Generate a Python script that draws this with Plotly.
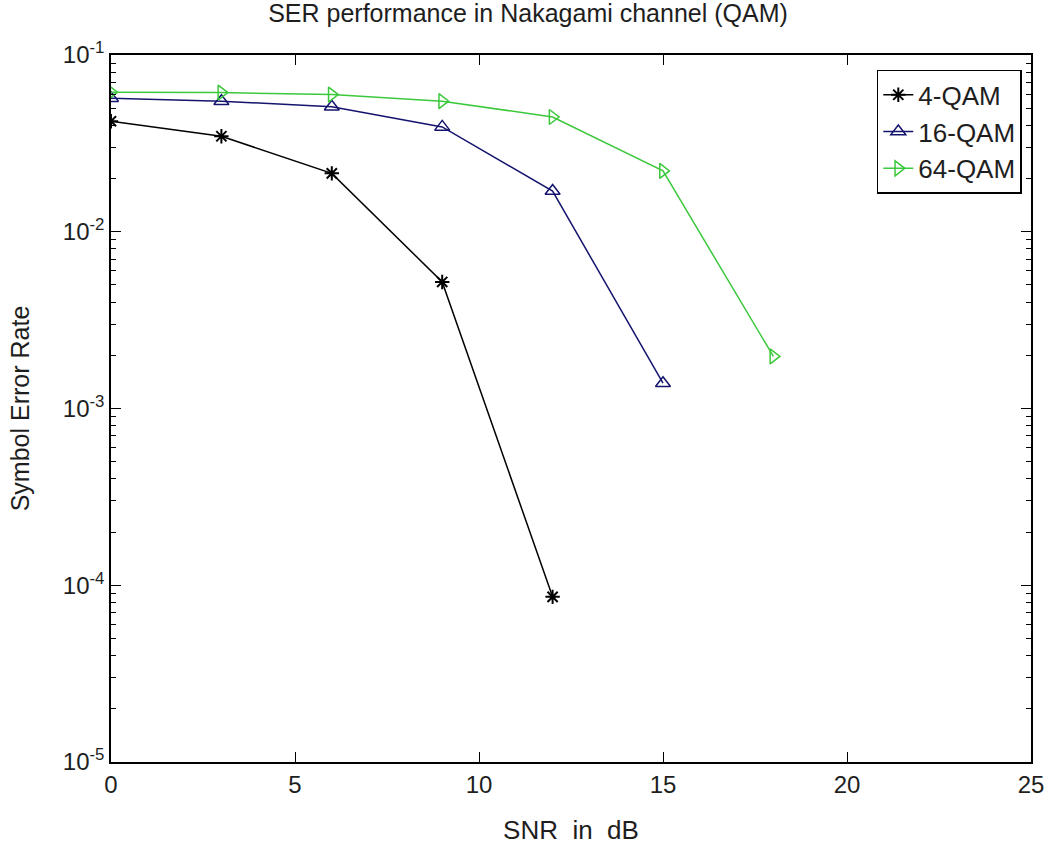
import plotly.graph_objects as go

# SNR sweep (dB) and simulated symbol error rates for each modulation order
snr_4qam = [0, 3, 6, 9, 12]
ser_4qam = [0.0422, 0.0347, 0.0214, 0.0052, 8.6e-5]

snr_16qam = [0, 3, 6, 9, 12, 15]
ser_16qam = [0.0570, 0.0548, 0.0510, 0.0392, 0.0170, 0.00139]

snr_64qam = [0, 3, 6, 9, 12, 15, 18]
ser_64qam = [0.0616, 0.0613, 0.0597, 0.0548, 0.0446, 0.0221, 0.00197]

x_ticks = [0, 5, 10, 15, 20, 25]
y_ticks = [1e-5, 1e-4, 1e-3, 1e-2, 1e-1]
y_tick_text = ["10<sup>-5</sup>", "10<sup>-4</sup>", "10<sup>-3</sup>",
               "10<sup>-2</sup>", "10<sup>-1</sup>"]
y_minor = [m * 10.0 ** e for e in range(-5, -1) for m in range(2, 10)]

FONT = "Liberation Sans, Arial, Helvetica, sans-serif"
TXT = "#1e1e1e"

fig = go.Figure()
fig.add_trace(go.Scatter(
    x=snr_4qam, y=ser_4qam, name="4-QAM", mode="lines+markers",
    line=dict(color="#000000", width=1.5),
    marker=dict(symbol="asterisk-open", size=12, color="#000000",
                line=dict(width=2, color="#000000")),
))
fig.add_trace(go.Scatter(
    x=snr_16qam, y=ser_16qam, name="16-QAM", mode="lines+markers",
    line=dict(color="#14146e", width=1.5),
    marker=dict(symbol="triangle-up-open", size=13, color="#14146e",
                line=dict(width=1.5, color="#14146e")),
))
fig.add_trace(go.Scatter(
    x=snr_64qam, y=ser_64qam, name="64-QAM", mode="lines+markers",
    line=dict(color="#3cc83c", width=1.5),
    marker=dict(symbol="triangle-right-open", size=13, color="#3cc83c",
                line=dict(width=1.5, color="#3cc83c")),
))

fig.update_layout(
    width=1056, height=852,
    margin=dict(l=111, r=18, t=55, b=86),
    paper_bgcolor="white", plot_bgcolor="white",
    font=dict(family=FONT, size=24, color=TXT),
    title=dict(text="SER performance in Nakagami channel (QAM)",
               x=0.5, xanchor="center", y=0.995, yanchor="top",
               font=dict(family=FONT, size=25, color=TXT)),
    showlegend=True,
    legend=dict(x=0.99, xanchor="right", y=0.979, yanchor="top",
                bgcolor="white", bordercolor="#000000", borderwidth=1.5,
                font=dict(family=FONT, size=26, color=TXT),
                tracegroupgap=2),
    xaxis=dict(
        range=[0, 25], tickmode="array", tickvals=x_ticks,
        ticks="inside", ticklen=10, tickwidth=1.2, tickcolor="#000000",
        showline=True, linecolor="#000000", linewidth=1.5, mirror="ticks",
        showgrid=False, zeroline=False,
        tickfont=dict(family=FONT, size=24, color=TXT),
        title=dict(text="SNR\u00a0\u00a0in\u00a0\u00a0dB", standoff=24,
                   font=dict(family=FONT, size=26, color=TXT)),
    ),
    yaxis=dict(
        type="log", range=[-5, -1], tickmode="array",
        tickvals=y_ticks, ticktext=y_tick_text,
        ticks="inside", ticklen=10, tickwidth=1.2, tickcolor="#000000",
        showline=True, linecolor="#000000", linewidth=1.5, mirror="ticks",
        showgrid=False, zeroline=False,
        tickfont=dict(family=FONT, size=24, color=TXT),
        minor=dict(tickmode="array", tickvals=y_minor, ticks="inside",
                   ticklen=5, tickwidth=1.2, tickcolor="#000000",
                   showgrid=False),
        title=dict(text="Symbol Error Rate", standoff=26,
                   font=dict(family=FONT, size=25, color=TXT)),
    ),
)

fig.write_html("out.html")
